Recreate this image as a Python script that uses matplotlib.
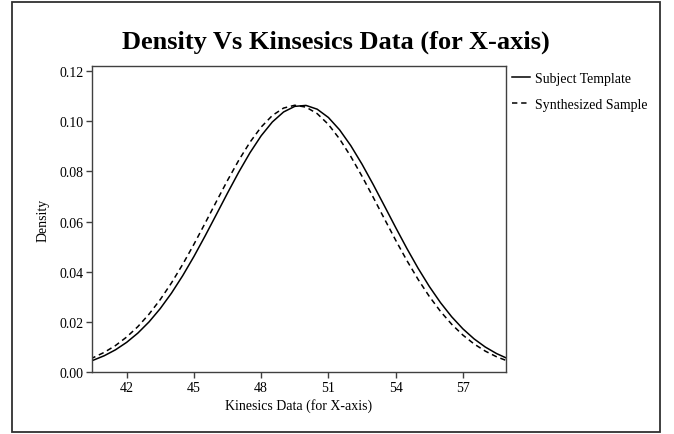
import matplotlib
matplotlib.use("Agg")
import matplotlib.pyplot as plt
from matplotlib.patches import Rectangle

plt.rcParams['font.family'] = ['Liberation Serif', 'DejaVu Serif']

# density estimates sampled every 0.5 units along the kinesics axis
x_vals = [40.0, 40.5, 41.0, 41.5, 42.0, 42.5, 43.0, 43.5, 44.0, 44.5,
          45.0, 45.5, 46.0, 46.5, 47.0, 47.5, 48.0, 48.5, 49.0, 49.5,
          50.0, 50.5, 51.0, 51.5, 52.0, 52.5, 53.0, 53.5, 54.0, 54.5,
          55.0, 55.5, 56.0, 56.5, 57.0, 57.5, 58.0, 58.5, 59.0, 59.5]

subject_template = [0.00338, 0.00475, 0.00657, 0.00892, 0.01190, 0.01559, 0.02006, 0.02537,
                    0.03151, 0.03846, 0.04610, 0.05430, 0.06281, 0.07139, 0.07971, 0.08743,
                    0.09421, 0.09972, 0.10370, 0.10594, 0.10632, 0.10481, 0.10151, 0.09658,
                    0.09027, 0.08289, 0.07477, 0.06626, 0.05768, 0.04933, 0.04144, 0.03420,
                    0.02773, 0.02209, 0.01728, 0.01328, 0.01003, 0.00744, 0.00542, 0.00388]

synthesized_sample = [0.00416, 0.00578, 0.00791, 0.01062, 0.01402, 0.01817, 0.02315, 0.02896,
                      0.03559, 0.04297, 0.05096, 0.05938, 0.06797, 0.07644, 0.08444, 0.09163,
                      0.09769, 0.10231, 0.10526, 0.10639, 0.10564, 0.10304, 0.09874, 0.09294,
                      0.08595, 0.07808, 0.06969, 0.06110, 0.05262, 0.04452, 0.03701, 0.03022,
                      0.02424, 0.01910, 0.01479, 0.01125, 0.00840, 0.00617, 0.00445, 0.00315]

x_ticks = [42, 45, 48, 51, 54, 57]
y_ticks = [0.00, 0.02, 0.04, 0.06, 0.08, 0.10, 0.12]

fig = plt.figure(figsize=(6.74, 4.35), dpi=100)
ax = fig.add_axes([0.136, 0.142, 0.615, 0.705])

ax.plot(x_vals, subject_template, color='black', lw=1.1, label='Subject Template')
ax.plot(x_vals, synthesized_sample, color='black', lw=1.1, linestyle=(0, (3.5, 2.5)),
        label='Synthesized Sample')

ax.set_xlim(40.44, 58.93)
ax.set_ylim(0, 0.1222)
ax.set_xticks(x_ticks)
ax.set_xticklabels([str(t) for t in x_ticks])
ax.set_yticks(y_ticks)
ax.set_yticklabels([f'{t:.2f}' for t in y_ticks])
ax.tick_params(direction='out', length=4, width=1, color='#404040', labelsize=10, pad=2)

for side in ax.spines.values():
    side.set_color('#404040')
    side.set_linewidth(1.0)

ax.set_xlabel('Kinesics Data (for X-axis)', fontsize=10, labelpad=3)
ax.set_ylabel('Density', fontsize=10, labelpad=7)

fig.suptitle('Density Vs Kinsesics Data (for X-axis)', fontsize=19, fontweight='bold',
             x=0.499, y=0.930)

ax.legend(loc='upper left', bbox_to_anchor=(0.995, 1.007), frameon=False, fontsize=10,
          handlelength=1.25, handletextpad=0.35, labelspacing=0.95, borderaxespad=0.2)

# outer frame around the whole chart
fig.patches.append(Rectangle((0.018, 0.005), 0.961, 0.988, transform=fig.transFigure,
                             fill=False, edgecolor='#303030', linewidth=1.3))

fig.savefig('out.png', dpi=100)
